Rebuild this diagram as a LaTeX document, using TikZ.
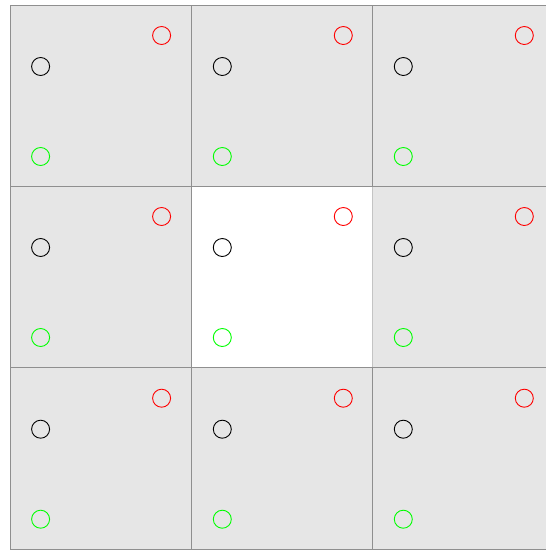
\documentclass[tikz,border=0pt]{standalone}
\begin{document}
\begin{tikzpicture}[x=1pt,y=-1pt,
  cellbox/.style={fill=cellgray,draw=bordergray,line width=1pt},
  ring/.style={circle,minimum size=18pt,inner sep=0pt,line width=0.9pt}]
\definecolor{cellgray}{HTML}{E6E6E6}
\definecolor{bordergray}{HTML}{8F8F8F}
\definecolor{lightborder}{HTML}{C4C4C4}
\definecolor{ringgreen}{HTML}{00FF00}
\useasboundingbox (0,0) rectangle (546,550);
\clip (0,0) rectangle (546,550);
% cells
\foreach \cx/\i in {10/0,191.7/1,372.7/2}{
  \foreach \cy/\j in {5/0,186/1,367.7/2}{
    \ifnum\i=1 \ifnum\j=1 \else
      \path[cellbox] (\cx,\cy) rectangle ++(181.3,181.5);
    \fi\else
      \path[cellbox] (\cx,\cy) rectangle ++(181.3,181.5);
    \fi
  }
}
% centre cell
\path[fill=white] (191.7,186) rectangle (372.7,367.7);
\draw[lightborder,line width=1pt] (372.7,186) -- (372.7,367.7);
\draw[bordergray,line width=1pt] (372.7,186) -- (191.7,186) -- (191.7,367.7) -- (372.7,367.7);
% rings
\foreach \cx/\i in {10/0,191.7/1,372.7/2}{
  \foreach \cy/\j in {5/0,186/1,367.7/2}{
    \node[ring,draw=black] (k\i\j) at (\cx+30.6,\cy+61.5) {};
    \node[ring,draw=red] (r\i\j) at (\cx+151.6,\cy+30.5) {};
    \node[ring,draw=ringgreen] (g\i\j) at (\cx+30.6,\cy+151.5) {};
  }
}
\end{tikzpicture}
\end{document}
